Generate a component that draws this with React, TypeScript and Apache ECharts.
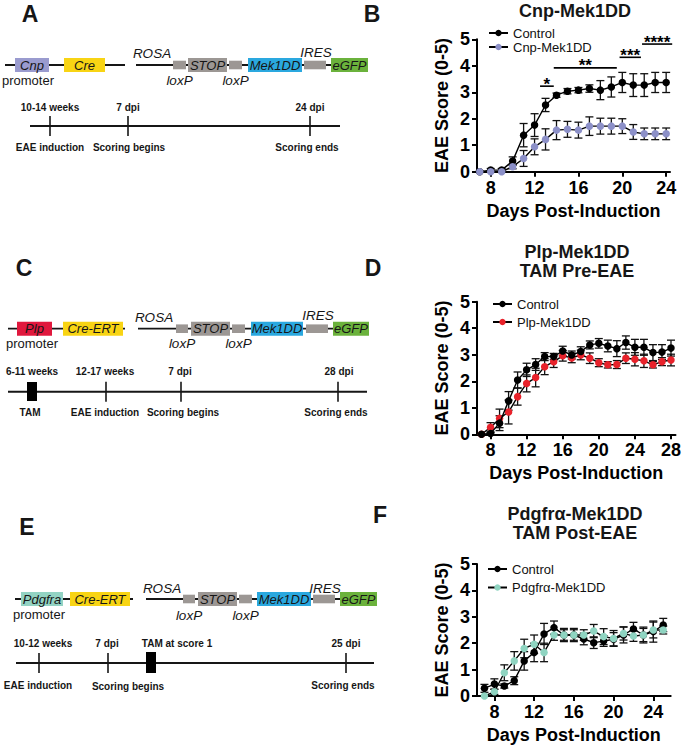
import React, { useEffect, useRef } from "react";
import * as echarts from "echarts";

const FONT = "'Liberation Sans', Arial, Helvetica, sans-serif";

// ---------- data ----------
const yTicks = [0, 1, 2, 3, 4, 5];

const daysB = [7, 8, 9, 10, 11, 12, 13, 14, 15, 16, 17, 18, 19, 20, 21, 22, 23, 24];
const ctrlB = [0.0, 0.06, 0.06, 0.4, 1.38, 1.76, 2.52, 2.89, 3.04, 3.08, 3.14, 3.08, 3.2, 3.37, 3.27, 3.27, 3.37, 3.37];
const ctrlBErr = [0.03, 0.06, 0.06, 0.16, 0.44, 0.43, 0.25, 0.08, 0.1, 0.1, 0.14, 0.36, 0.38, 0.38, 0.43, 0.43, 0.38, 0.38];
const cnpB = [0, 0, 0, 0.19, 0.5, 0.94, 1.22, 1.57, 1.6, 1.57, 1.72, 1.72, 1.72, 1.72, 1.5, 1.43, 1.43, 1.43];
const cnpBErr = [0, 0, 0, 0.08, 0.3, 0.3, 0.4, 0.36, 0.3, 0.3, 0.35, 0.3, 0.3, 0.28, 0.28, 0.22, 0.22, 0.22];
const xTicksB = [8, 12, 16, 20, 24];

const sigStart = [12.5, 13.75, 19.75, 21.8];
const sigEnd = [13.75, 19.5, 21.7, 24.55];
const sigLevel = [3.23, 3.92, 4.32, 4.82];
const sigLabels = ["*", "**", "***", "****"];

const daysD = [7, 8, 9, 10, 11, 12, 13, 14, 15, 16, 17, 18, 19, 20, 21, 22, 23, 24, 25, 26, 27, 28];
const ctrlD = [0, 0.03, 0.42, 1.26, 2.05, 2.43, 2.63, 2.93, 2.93, 3.14, 2.99, 3.12, 3.37, 3.43, 3.33, 3.23, 3.46, 3.28, 3.28, 3.08, 3.1, 3.25];
const ctrlDErr = [0, 0.05, 0.28, 0.35, 0.3, 0.25, 0.22, 0.15, 0.12, 0.18, 0.15, 0.18, 0.15, 0.18, 0.22, 0.3, 0.25, 0.3, 0.3, 0.3, 0.28, 0.3];
const plpD = [0, 0.26, 0.6, 0.84, 1.42, 1.92, 2.14, 2.55, 2.74, 2.96, 2.88, 2.99, 2.87, 2.7, 2.62, 2.63, 2.87, 2.83, 2.77, 2.62, 2.74, 2.8];
const plpDErr = [0, 0.18, 0.35, 0.45, 0.32, 0.32, 0.35, 0.3, 0.22, 0.2, 0.18, 0.18, 0.2, 0.15, 0.12, 0.15, 0.2, 0.25, 0.25, 0.12, 0.15, 0.22];
const xTicksD = [8, 12, 16, 20, 24, 28];

const daysF = [7, 8, 9, 10, 11, 12, 13, 14, 15, 16, 17, 18, 19, 20, 21, 22, 23, 24, 25];
const ctrlF = [0.29, 0.45, 0.38, 0.58, 1.33, 1.65, 2.35, 2.59, 2.31, 2.31, 2.16, 2.02, 2.08, 2.15, 2.31, 2.54, 2.31, 2.44, 2.69];
const ctrlFErr = [0.15, 0.2, 0.08, 0.15, 0.35, 0.35, 0.4, 0.25, 0.25, 0.25, 0.22, 0.22, 0.2, 0.25, 0.3, 0.25, 0.3, 0.4, 0.25];
const pdgF = [0, 0.16, 0.88, 1.33, 1.8, 1.96, 1.65, 2.31, 2.31, 2.31, 2.31, 2.46, 2.25, 2.18, 2.37, 2.27, 2.31, 2.5, 2.5];
const pdgFErr = [0, 0.1, 0.3, 0.35, 0.35, 0.35, 0.35, 0.2, 0.2, 0.2, 0.2, 0.25, 0.3, 0.3, 0.25, 0.2, 0.25, 0.3, 0.15];
const xTicksF = [8, 12, 16, 20, 24];

// ---------- styles ----------
const COL_CTRL = "#000000";
const COL_CNP = "#8c90c8";
const COL_PLP = "#e8222b";
const COL_PDG = "#8fd4c1";
const GREY = "#9c9794";
const YELLOW = "#f8d414";
const BLUE = "#2aa8df";
const GREEN = "#6bb23c";
const INK = "#161616";

// ---------- graphic helpers ----------
const rect = (x: number, y: number, w: number, h: number, fill: string) => ({
  type: "rect", shape: { x, y, width: w, height: h }, style: { fill }, silent: true,
});
const seg = (x1: number, y1: number, x2: number, y2: number, w = 1.8) => ({
  type: "line", shape: { x1, y1, x2, y2 }, style: { stroke: INK, lineWidth: w }, silent: true,
});
const txt = (x: number, y: number, text: string, font: string, align = "center") => ({
  type: "text", x, y, silent: true,
  style: { text, font, fill: INK, align, verticalAlign: "middle", textAlign: align, textVerticalAlign: "middle" },
});

const IT = `italic 13px ${FONT}`;
const RG = `13px ${FONT}`;
const TB = `bold 10px ${FONT}`;
const LET = `bold 23px ${FONT}`;
const TITLE = `bold 18px ${FONT}`;

type Con = {
  y: number; l: number[]; prom: number[]; promColor: string; promLabel: string;
  cre: number[]; creLabel: string; r: number[]; lox1: number[]; stop: number[]; lox2: number[];
  mek: number[]; ires: number[]; egfp: number[]; rosa: number[]; iresT: number[]; loxY: number; promT: number[];
};

function construct(c: Con) {
  const y = c.y;
  const big = (a: number[], col: string) => rect(a[0], y - 7, a[1] - a[0], 14, col);
  const small = (a: number[]) => rect(a[0], y - 4.3, a[1] - a[0], 8.6, GREY);
  const mid = (a: number[]) => (a[0] + a[1]) / 2;
  return [
    seg(c.l[0], y, c.l[1], y),
    big(c.prom, c.promColor),
    txt(mid(c.prom), y, c.promLabel, IT),
    big(c.cre, YELLOW),
    txt(mid(c.cre), y, c.creLabel, IT),
    seg(c.r[0], y, c.r[1], y),
    small(c.lox1),
    big(c.stop, GREY),
    txt(mid(c.stop), y, "STOP", IT),
    small(c.lox2),
    big(c.mek, BLUE),
    txt(mid(c.mek), y, "Mek1DD", IT),
    small(c.ires),
    big(c.egfp, GREEN),
    txt(mid(c.egfp), y, "eGFP", IT),
    txt(c.rosa[0], c.rosa[1], "ROSA", `italic 13.5px ${FONT}`),
    txt(c.iresT[0], c.iresT[1], "IRES", `italic 13.5px ${FONT}`),
    txt(mid(c.lox1), c.loxY, "loxP", `italic 13.5px ${FONT}`),
    txt(mid(c.lox2), c.loxY, "loxP", `italic 13.5px ${FONT}`),
    txt(c.promT[0], c.promT[1], "promoter", RG),
  ];
}

function timeline(
  y: number, x1: number, x2: number, ticks: number[], tam: number[] | null,
  above: [number, number, string][], below: [number, number, string][]
) {
  const els: any[] = [seg(x1, y, x2, y, 2)];
  ticks.forEach((t) => els.push(seg(t, y - 10, t, y + 10, 1.6)));
  if (tam) els.push(rect(tam[0], tam[1], tam[2] - tam[0], tam[3] - tam[1], "#000"));
  above.forEach(([x, yy, s]) => els.push(txt(x, yy, s, TB)));
  below.forEach(([x, yy, s]) => els.push(txt(x, yy, s, TB)));
  return els;
}

function buildGraphics() {
  const g: any[] = [];
  // panel letters
  g.push(txt(30, 14, "A", LET), txt(372, 14, "B", LET));
  g.push(txt(24, 268, "C", LET), txt(373, 268, "D", LET));
  g.push(txt(27, 527, "E", LET), txt(380, 515, "F", LET));
  // chart titles
  g.push(txt(575, 11, "Cnp-Mek1DD", TITLE));
  g.push(txt(577, 252, "Plp-Mek1DD", TITLE), txt(577, 270.5, "TAM Pre-EAE", TITLE));
  g.push(txt(575, 514, "Pdgfrα-Mek1DD", TITLE), txt(575, 533, "TAM Post-EAE", TITLE));

  // constructs
  g.push(...construct({
    y: 65, l: [5, 125], prom: [15, 49], promColor: "#9a9bcf", promLabel: "Cnp",
    cre: [64, 105], creLabel: "Cre", r: [136, 367], lox1: [173, 186], stop: [188, 227],
    lox2: [229, 242], mek: [248, 302], ires: [304, 326], egfp: [331, 368],
    rosa: [152, 53], iresT: [316, 52], loxY: 80, promT: [28, 80.5],
  }));
  g.push(...construct({
    y: 328.7, l: [8, 125], prom: [17, 52], promColor: "#e0183d", promLabel: "Plp",
    cre: [63, 123], creLabel: "Cre-ERT", r: [138, 368], lox1: [176, 188], stop: [191, 230],
    lox2: [232, 245], mek: [251, 303], ires: [306, 328], egfp: [333, 369],
    rosa: [154, 317], iresT: [318, 315], loxY: 343, promT: [32, 343.5],
  }));
  g.push(...construct({
    y: 599, l: [15, 133], prom: [21, 63], promColor: "#93d3c3", promLabel: "Pdgfra",
    cre: [70, 130], creLabel: "Cre-ERT", r: [146, 377], lox1: [183, 195], stop: [198, 237],
    lox2: [239, 252], mek: [257, 311], ires: [313, 335], egfp: [340, 377],
    rosa: [162, 588], iresT: [325, 588], loxY: 615, promT: [39, 614.5],
  }));

  // timelines
  g.push(...timeline(126, 30, 340, [50, 128, 310], null,
    [[50, 107, "10-14 weeks"], [128, 107, "7 dpi"], [310, 107, "24 dpi"]],
    [[50, 147, "EAE induction"], [129, 147, "Scoring begins"], [307, 147, "Scoring ends"]]));
  g.push(...timeline(391.7, 8, 367, [106, 181, 338], [27, 382, 37, 401],
    [[32, 371, "6-11 weeks"], [105, 371, "12-17 weeks"], [180, 371, "7 dpi"], [339, 371, "28 dpi"]],
    [[30, 412, "TAM"], [105, 412, "EAE induction"], [183, 412, "Scoring begins"], [336, 412, "Scoring ends"]]));
  g.push(...timeline(663, 16, 374, [39, 108, 346], [146, 652, 156, 673],
    [[43, 643, "10-12 weeks"], [107, 643, "7 dpi"], [177, 643, "TAM at score 1"], [346, 643, "25 dpi"]],
    [[38, 685, "EAE induction"], [128, 686, "Scoring begins"], [343, 685, "Scoring ends"]]));
  return g;
}

// ---------- chart helpers ----------
const axisLine = { onZero: false, lineStyle: { color: "#000", width: 2 } };
const tickLabel = { fontFamily: FONT, fontWeight: "bold", fontSize: 18, color: "#000" };

function xAxisCfg(i: number, min: number, max: number, ticks: number[]) {
  return {
    type: "value", gridIndex: i, min, max,
    name: "Days Post-Induction", nameLocation: "middle", nameGap: 30,
    nameTextStyle: { ...tickLabel },
    axisLine,
    axisTick: { show: true, customValues: ticks, length: 5, lineStyle: { color: "#000", width: 2 } },
    axisLabel: { ...tickLabel, customValues: ticks, margin: 7 },
    splitLine: { show: false },
  };
}
function yAxisCfg(i: number) {
  return {
    type: "value", gridIndex: i, min: yTicks[0], max: yTicks[yTicks.length - 1], interval: 1,
    name: "EAE Score (0-5)", nameLocation: "middle", nameGap: 26,
    nameTextStyle: { ...tickLabel },
    axisLine: { ...axisLine, show: true },
    axisTick: { show: true, length: 5, lineStyle: { color: "#000", width: 2 } },
    axisLabel: { ...tickLabel, margin: 7 },
    splitLine: { show: false },
  };
}

function errSeries(i: number, days: number[], mean: number[], err: number[]) {
  return {
    type: "custom", xAxisIndex: i, yAxisIndex: i, z: 2, silent: true, clip: false,
    data: days.map((d, k) => [d, mean[k], err[k]]),
    encode: { x: 0, y: 1 },
    renderItem: (_p: any, api: any) => {
      const x = api.value(0), m = api.value(1), e = api.value(2);
      if (!e) return { type: "group", children: [] };
      const t = api.coord([x, m + e]);
      const b = api.coord([x, Math.max(0, m - e)]);
      const hw = 4;
      const st = { stroke: "#111", lineWidth: 1.3 };
      return {
        type: "group",
        children: [
          { type: "line", shape: { x1: t[0], y1: t[1], x2: b[0], y2: b[1] }, style: st },
          { type: "line", shape: { x1: t[0] - hw, y1: t[1], x2: t[0] + hw, y2: t[1] }, style: st },
          { type: "line", shape: { x1: b[0] - hw, y1: b[1], x2: b[0] + hw, y2: b[1] }, style: st },
        ],
      };
    },
  };
}

function lineSeries(i: number, name: string, days: number[], vals: number[], color: string, z: number) {
  return {
    type: "line", name, xAxisIndex: i, yAxisIndex: i, z,
    data: days.map((d, k) => [d, vals[k]]),
    symbol: "circle", symbolSize: 7.5, showSymbol: true,
    lineStyle: { color: "#000", width: 1.4 },
    itemStyle: { color },
    emphasis: { disabled: true },
  };
}

function legendCfg(left: number, top: number, gap: number, names: string[]) {
  return {
    data: names, left, top, orient: "vertical", itemGap: gap, itemWidth: 19, itemHeight: 8,
    padding: 0, selectedMode: false,
    textStyle: { fontFamily: FONT, fontSize: 13, color: "#111", lineHeight: 14 },
  };
}

export default function App() {
  const ref = useRef<HTMLDivElement>(null);
  useEffect(() => {
    if (!ref.current) return;
    const chart = echarts.init(ref.current, undefined, { renderer: "svg" });
    const option: any = {
      animation: false,
      backgroundColor: "#fff",
      textStyle: { fontFamily: FONT },
      grid: [
        { left: 477, top: 39.3, width: 193, height: 132.4 },
        { left: 477, top: 301.7, width: 200, height: 132.6 },
        { left: 477, top: 564, width: 193.7, height: 132 },
      ],
      xAxis: [
        xAxisCfg(0, 6.75, 24.35, xTicksB),
        xAxisCfg(1, 6.5, 28.5, xTicksD),
        xAxisCfg(2, 6.25, 25.75, xTicksF),
      ],
      yAxis: [yAxisCfg(0), yAxisCfg(1), yAxisCfg(2)],
      legend: [
        legendCfg(488, 26, 0, ["Control", "Cnp-Mek1DD"]),
        legendCfg(492, 297, 4, ["Control", "Plp-Mek1DD"]),
        legendCfg(487, 562, 4.5, ["Control", "Pdgfrα-Mek1DD"]),
      ],
      series: [
        errSeries(0, daysB, ctrlB, ctrlBErr),
        errSeries(0, daysB, cnpB, cnpBErr),
        lineSeries(0, "Control", daysB, ctrlB, COL_CTRL, 3),
        lineSeries(0, "Cnp-Mek1DD", daysB, cnpB, COL_CNP, 4),
        {
          type: "custom", xAxisIndex: 0, yAxisIndex: 0, z: 5, silent: true, clip: false,
          data: sigStart.map((s, k) => [s, sigEnd[k], sigLevel[k]]),
          encode: { x: [0, 1], y: 2 },
          renderItem: (p: any, api: any) => {
            const a = api.coord([api.value(0), api.value(2)]);
            const b = api.coord([api.value(1), api.value(2)]);
            return {
              type: "group",
              children: [
                { type: "line", shape: { x1: a[0], y1: a[1], x2: b[0], y2: b[1] }, style: { stroke: "#000", lineWidth: 1.6 } },
                {
                  type: "text", x: (a[0] + b[0]) / 2, y: a[1] - 2,
                  style: { text: sigLabels[p.dataIndex], font: `bold 17px ${FONT}`, fill: "#000", align: "center", verticalAlign: "middle" },
                },
              ],
            };
          },
        },
        errSeries(1, daysD, plpD, plpDErr),
        errSeries(1, daysD, ctrlD, ctrlDErr),
        lineSeries(1, "Plp-Mek1DD", daysD, plpD, COL_PLP, 3),
        lineSeries(1, "Control", daysD, ctrlD, COL_CTRL, 4),
        errSeries(2, daysF, ctrlF, ctrlFErr),
        errSeries(2, daysF, pdgF, pdgFErr),
        lineSeries(2, "Control", daysF, ctrlF, COL_CTRL, 3),
        lineSeries(2, "Pdgfrα-Mek1DD", daysF, pdgF, COL_PDG, 4),
      ],
      graphic: buildGraphics(),
    };
    chart.setOption(option);
    return () => chart.dispose();
  }, []);
  return (
    <div
      ref={ref}
      style={{ position: "absolute", left: 0, top: 0, width: 684, height: 745, background: "#fff" }}
    />
  );
}
